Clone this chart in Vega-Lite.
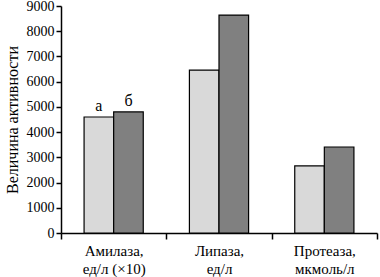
{
  "$schema": "https://vega.github.io/schema/vega-lite/v6.json",
  "autosize": "none",
  "width": 316,
  "height": 227,
  "padding": {"left": 61, "top": 6, "right": 3, "bottom": 44},
  "background": "white",
  "config": {
    "view": {"stroke": null},
    "font": "Liberation Serif",
    "axis": {"domainColor": "black", "tickColor": "black", "labelColor": "black", "titleColor": "black", "labelFont": "Liberation Serif", "titleFont": "Liberation Serif", "domainWidth": 1.5, "tickWidth": 1.5}
  },
  "data": {"values": [
    {"cat": "Амилаза,|ед/л (×10)", "grp": "а", "value": 4600, "lab": "а"},
    {"cat": "Амилаза,|ед/л (×10)", "grp": "б", "value": 4800, "lab": "б"},
    {"cat": "Липаза,|ед/л", "grp": "а", "value": 6460, "lab": ""},
    {"cat": "Липаза,|ед/л", "grp": "б", "value": 8640, "lab": ""},
    {"cat": "Протеаза,|мкмоль/л", "grp": "а", "value": 2660, "lab": ""},
    {"cat": "Протеаза,|мкмоль/л", "grp": "б", "value": 3410, "lab": ""}
  ]},
  "encoding": {
    "x": {"field": "cat", "type": "nominal", "sort": null,
      "scale": {"paddingInner": 0, "paddingOuter": 0},
      "axis": {"title": null, "labelAngle": 0, "tickBand": "extent", "tickSize": 6, "labelPadding": 4, "labelFontSize": 15, "labelLineHeight": 18, "labelExpr": "isValid(datum.value) ? split(datum.value, '|') : ''", "labelLimit": 200}},
    "xOffset": {"field": "grp", "type": "nominal", "scale": {"paddingOuter": 0.78, "paddingInner": 0}},
    "y": {"field": "value", "type": "quantitative",
      "scale": {"domain": [0, 9000], "nice": false},
      "axis": {"title": "Величина активности", "titleFontSize": 16, "titleFontWeight": "normal", "titlePadding": 6, "values": [0,1000,2000,3000,4000,5000,6000,7000,8000,9000], "format": "d", "grid": false, "tickSize": 5, "labelFontSize": 14, "labelPadding": 2}}
  },
  "layer": [
    {"mark": {"type": "bar", "stroke": "black", "strokeWidth": 1.2},
     "encoding": {"color": {"field": "grp", "type": "nominal", "scale": {"domain": ["а", "б"], "range": ["#d9d9d9", "#808080"]}, "legend": null}}},
    {"mark": {"type": "text", "baseline": "bottom", "dy": -3, "fontSize": 16, "font": "Liberation Serif", "color": "black"},
     "encoding": {"text": {"field": "lab"}}}
  ]
}
